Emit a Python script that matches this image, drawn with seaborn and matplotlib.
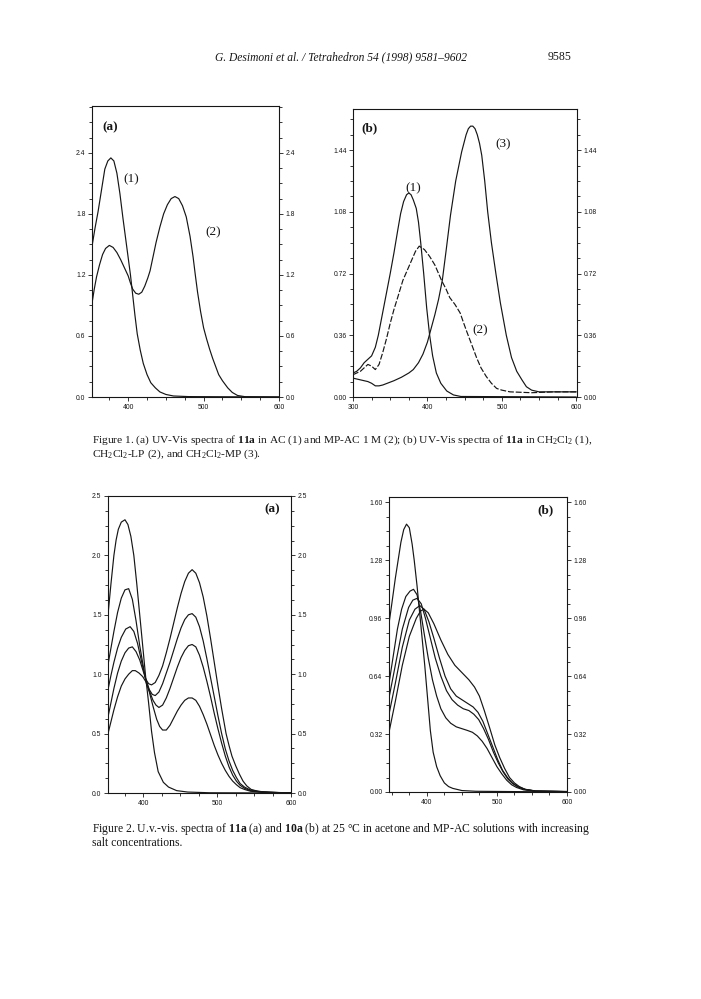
import numpy as np
import pandas as pd
import matplotlib
matplotlib.use("Agg")
import matplotlib.pyplot as plt
from matplotlib.ticker import MultipleLocator, FormatStrFormatter
import seaborn as sns

# ---------------- data (read from the scanned page) ----------------
# Figure 1 (a)
wl_1a_c1 = [352, 356, 360, 363, 366, 369, 373, 377, 381, 385, 389, 393, 398, 403, 406, 409, 412, 416, 420, 425, 430, 436, 442, 450, 460, 480, 600]
ab_1a_c1 = [1.48, 1.66, 1.82, 1.96, 2.1, 2.24, 2.32, 2.35, 2.32, 2.2, 2.0, 1.76, 1.48, 1.2, 1.0, 0.8, 0.62, 0.46, 0.33, 0.22, 0.14, 0.09, 0.05, 0.025, 0.01, 0.004, 0.0]
wl_1a_c2 = [352, 355, 358, 362, 366, 370, 375, 380, 385, 390, 395, 400, 403, 406, 410, 414, 418, 422, 426, 429, 433, 437, 442, 447, 452, 457, 462, 467, 472, 477, 482, 486, 489, 492, 496, 500, 504, 508, 512, 516, 520, 525, 532, 538, 545, 555, 600]
ab_1a_c2 = [0.92, 1.06, 1.18, 1.3, 1.4, 1.46, 1.49, 1.47, 1.42, 1.35, 1.27, 1.19, 1.12, 1.06, 1.02, 1.01, 1.03, 1.09, 1.17, 1.24, 1.38, 1.52, 1.67, 1.8, 1.89, 1.95, 1.97, 1.95, 1.88, 1.77, 1.58, 1.38, 1.2, 1.03, 0.84, 0.68, 0.57, 0.47, 0.38, 0.3, 0.22, 0.16, 0.09, 0.045, 0.015, 0.003, 0.0]

# Figure 1 (b)
wl_1b_c1 = [300, 305, 310, 315, 320, 325, 330, 334, 338, 342, 346, 350, 355, 360, 364, 368, 372, 375, 378, 381, 385, 388, 391, 395, 399, 403, 407, 412, 418, 426, 435, 445, 600]
ab_1b_c1 = [0.14, 0.15, 0.17, 0.2, 0.22, 0.24, 0.29, 0.36, 0.45, 0.54, 0.63, 0.72, 0.84, 0.97, 1.07, 1.14, 1.18, 1.19, 1.18, 1.15, 1.1, 1.02, 0.9, 0.72, 0.52, 0.36, 0.24, 0.14, 0.08, 0.035, 0.012, 0.003, 0.0]
wl_1b_c2 = [300, 305, 310, 315, 320, 325, 330, 335, 340, 345, 350, 355, 360, 367, 373, 379, 384, 389, 396, 403, 410, 413, 419, 425, 430, 437, 444, 448, 453, 460, 466, 472, 479, 486, 493, 500, 511, 540, 570, 600]
ab_1b_c2 = [0.13, 0.14, 0.15, 0.17, 0.19, 0.18, 0.16, 0.19, 0.26, 0.34, 0.43, 0.51, 0.58, 0.68, 0.74, 0.8, 0.85, 0.88, 0.86, 0.82, 0.77, 0.74, 0.68, 0.63, 0.58, 0.54, 0.49, 0.44, 0.38, 0.3, 0.23, 0.17, 0.12, 0.08, 0.05, 0.04, 0.03, 0.025, 0.03, 0.03]
wl_1b_c3 = [300, 305, 310, 315, 320, 325, 330, 335, 340, 346, 355, 365, 375, 381, 388, 394, 400, 405, 410, 415, 420, 425, 431, 438, 446, 452, 455, 458, 461, 464, 467, 470, 473, 477, 481, 486, 492, 498, 506, 513, 520, 527, 533, 540, 550, 600]
ab_1b_c3 = [0.11, 0.105, 0.1, 0.095, 0.09, 0.08, 0.065, 0.065, 0.07, 0.08, 0.095, 0.115, 0.14, 0.16, 0.2, 0.25, 0.32, 0.4, 0.48, 0.57, 0.68, 0.85, 1.06, 1.26, 1.43, 1.53, 1.565, 1.58, 1.58, 1.565, 1.53, 1.48, 1.41, 1.26, 1.08, 0.9, 0.72, 0.55, 0.36, 0.23, 0.15, 0.1, 0.06, 0.04, 0.03, 0.03]

# Figure 2 (a)
wl_2a_a = [352, 356, 360, 363, 366, 370, 375, 379, 383, 387, 391, 395, 399, 403, 407, 411, 415, 420, 427, 434, 445, 460, 490, 600]
ab_2a_a = [1.5, 1.76, 2.0, 2.13, 2.22, 2.28, 2.3, 2.26, 2.16, 2.0, 1.76, 1.5, 1.24, 0.98, 0.76, 0.52, 0.34, 0.18, 0.09, 0.05, 0.02, 0.008, 0.002, 0.0]
wl_2a_b = [352, 356, 360, 365, 370, 375, 380, 385, 390, 395, 400, 403, 407, 411, 416, 421, 426, 431, 436, 441, 446, 451, 456, 461, 466, 471, 476, 481, 486, 491, 496, 501, 506, 512, 516, 520, 525, 530, 535, 540, 546, 555, 570, 600]
ab_2a_b = [1.08, 1.22, 1.36, 1.52, 1.64, 1.71, 1.72, 1.63, 1.45, 1.24, 1.06, 0.96, 0.92, 0.91, 0.93, 0.99, 1.07, 1.18, 1.3, 1.43, 1.56, 1.68, 1.78, 1.85, 1.88, 1.85, 1.77, 1.65, 1.49, 1.3, 1.1, 0.9, 0.71, 0.5, 0.4, 0.31, 0.23, 0.16, 0.1, 0.06, 0.03, 0.015, 0.006, 0.0]
wl_2a_c = [352, 356, 360, 365, 370, 376, 382, 387, 392, 397, 403, 408, 412, 416, 421, 426, 431, 436, 441, 446, 451, 456, 461, 466, 471, 476, 481, 486, 491, 496, 501, 506, 511, 516, 521, 526, 531, 537, 545, 560, 600]
ab_2a_c = [0.87, 0.99, 1.1, 1.22, 1.31, 1.38, 1.4, 1.36, 1.26, 1.12, 0.96, 0.87, 0.83, 0.82, 0.85, 0.92, 1.01, 1.1, 1.2, 1.3, 1.39, 1.46, 1.5, 1.51, 1.48, 1.4, 1.28, 1.13, 0.97, 0.81, 0.65, 0.5, 0.37, 0.27, 0.19, 0.13, 0.08, 0.05, 0.025, 0.01, 0.0]
wl_2a_d = [352, 356, 360, 365, 370, 375, 380, 385, 390, 395, 400, 403, 408, 413, 417, 421, 426, 431, 436, 441, 446, 451, 456, 461, 466, 471, 476, 481, 486, 491, 496, 501, 506, 511, 516, 521, 526, 531, 537, 545, 560, 600]
ab_2a_d = [0.64, 0.76, 0.88, 1.01, 1.11, 1.18, 1.22, 1.23, 1.19, 1.12, 1.02, 0.96, 0.86, 0.78, 0.74, 0.72, 0.74, 0.8, 0.88, 0.97, 1.06, 1.14, 1.2, 1.24, 1.25, 1.23, 1.16, 1.06, 0.94, 0.81, 0.67, 0.54, 0.42, 0.31, 0.22, 0.15, 0.1, 0.065, 0.04, 0.02, 0.008, 0.0]
wl_2a_e = [352, 356, 360, 365, 370, 375, 380, 385, 389, 394, 399, 403, 408, 413, 418, 422, 426, 431, 436, 441, 446, 451, 456, 461, 466, 471, 476, 481, 486, 491, 496, 501, 506, 511, 516, 521, 526, 531, 537, 545, 560, 600]
ab_2a_e = [0.5, 0.6, 0.7, 0.81, 0.9, 0.96, 1.0, 1.03, 1.03, 1.01, 0.98, 0.94, 0.85, 0.73, 0.62, 0.56, 0.53, 0.53, 0.57, 0.63, 0.69, 0.74, 0.78, 0.8, 0.8, 0.78, 0.73, 0.66, 0.58, 0.49, 0.4, 0.32, 0.25, 0.19, 0.14, 0.1, 0.07, 0.045, 0.03, 0.015, 0.006, 0.0]

# Figure 2 (b)
wl_2b_a = [346, 350, 355, 359, 363, 367, 371, 375, 379, 382, 386, 390, 394, 397, 401, 405, 409, 414, 419, 425, 431, 437, 450, 470, 600]
ab_2b_a = [0.93, 1.04, 1.18, 1.28, 1.38, 1.45, 1.48, 1.46, 1.37, 1.28, 1.14, 0.98, 0.82, 0.7, 0.52, 0.34, 0.22, 0.14, 0.09, 0.05, 0.03, 0.02, 0.008, 0.004, 0.0]
wl_2b_b = [346, 352, 358, 364, 370, 376, 381, 386, 391, 396, 402, 408, 414, 420, 427, 434, 442, 450, 458, 465, 472, 479, 486, 493, 500, 507, 514, 521, 528, 538, 555, 600]
ab_2b_b = [0.6, 0.75, 0.9, 1.01, 1.08, 1.11, 1.12, 1.09, 1.0, 0.88, 0.74, 0.62, 0.53, 0.46, 0.41, 0.38, 0.36, 0.35, 0.34, 0.33, 0.31, 0.28, 0.24, 0.19, 0.14, 0.1, 0.065, 0.04, 0.025, 0.012, 0.004, 0.002]
wl_2b_c = [346, 355, 365, 374, 380, 386, 392, 398, 405, 412, 420, 428, 436, 444, 452, 460, 467, 474, 481, 488, 495, 502, 509, 516, 523, 530, 540, 555, 600]
ab_2b_c = [0.52, 0.7, 0.9, 1.02, 1.06, 1.07, 1.04, 0.96, 0.85, 0.74, 0.64, 0.56, 0.51, 0.48, 0.46, 0.45, 0.43, 0.4, 0.35, 0.29, 0.22, 0.16, 0.11, 0.07, 0.045, 0.028, 0.014, 0.005, 0.002]
wl_2b_d = [346, 355, 365, 375, 383, 390, 396, 403, 410, 418, 426, 434, 442, 450, 458, 466, 473, 480, 487, 494, 501, 508, 515, 522, 530, 540, 555, 600]
ab_2b_d = [0.43, 0.6, 0.8, 0.95, 1.01, 1.03, 1.01, 0.94, 0.85, 0.74, 0.64, 0.57, 0.53, 0.51, 0.49, 0.47, 0.44, 0.39, 0.32, 0.25, 0.18, 0.12, 0.08, 0.05, 0.03, 0.015, 0.005, 0.002]
wl_2b_e = [346, 355, 365, 375, 385, 391, 396, 402, 410, 420, 430, 440, 450, 460, 468, 475, 482, 490, 497, 504, 511, 518, 525, 532, 540, 555, 600]
ab_2b_e = [0.33, 0.5, 0.7, 0.86, 0.96, 1.0, 1.01, 0.99, 0.93, 0.84, 0.76, 0.7, 0.66, 0.62, 0.58, 0.53, 0.45, 0.35, 0.26, 0.19, 0.13, 0.08, 0.05, 0.03, 0.015, 0.006, 0.003]

# ---------------- style ----------------
sns.set_theme(style="white")
plt.rcParams["font.family"] = ["Liberation Serif", "DejaVu Serif"]
plt.rcParams["mathtext.fontset"] = "custom"
plt.rcParams["mathtext.rm"] = "Liberation Serif"
plt.rcParams["mathtext.it"] = "Liberation Serif:italic"
plt.rcParams["mathtext.bf"] = "Liberation Serif:bold"

INK = "#161616"
W, H = 701, 999

fig = plt.figure(figsize=(W / 100, H / 100), dpi=100)
fig.patch.set_facecolor("white")


def box(left, top, right, bottom):
    return [left / W, 1 - bottom / H, (right - left) / W, (bottom - top) / H]


def ftext(x, y, s, **kw):
    fig.text(x / W, 1 - y / H, s, **kw)


def style_axes(ax, xlim, ylim, ymaj, ymin, yfmt):
    ax.set_xlim(*xlim)
    ax.set_ylim(*ylim)
    ax.set_facecolor("white")
    for sp in ax.spines.values():
        sp.set_visible(True)
        sp.set_color(INK)
        sp.set_linewidth(0.8)
    ax.xaxis.set_major_locator(MultipleLocator(100))
    ax.xaxis.set_minor_locator(MultipleLocator(25))
    ax.yaxis.set_major_locator(MultipleLocator(ymaj))
    ax.yaxis.set_minor_locator(MultipleLocator(ymin))
    ax.xaxis.set_major_formatter(FormatStrFormatter("%d"))
    ax.yaxis.set_major_formatter(FormatStrFormatter(yfmt))
    ax.tick_params(axis="both", which="both", direction="out", color=INK,
                   width=0.6, top=False, bottom=True, left=True, right=True,
                   labelleft=True, labelright=True, labelbottom=True)
    ax.tick_params(which="major", length=3.2, pad=1.5)
    ax.tick_params(which="minor", length=2.2)
    for lab in ax.get_xticklabels() + ax.get_yticklabels():
        lab.set_fontfamily(["Liberation Sans", "DejaVu Sans"])
        lab.set_fontsize(4.9)
        lab.set_color(INK)
    ax.set_xlabel("")
    ax.set_ylabel("")
    ax.grid(False)


def curve(ax, wl, ab, dashed=False):
    df = pd.DataFrame({"wl": wl, "A": ab})
    sns.lineplot(data=df, x="wl", y="A", ax=ax, color=INK, lw=0.85,
                 estimator=None, sort=False, legend=False)
    if dashed:
        ax.lines[-1].set_dashes([5, 1.6])


# ---------------- Figure 1 (a) ----------------
ax1a = fig.add_axes(box(92, 106, 279, 397))
curve(ax1a, wl_1a_c1, ab_1a_c1)
curve(ax1a, wl_1a_c2, ab_1a_c2)
style_axes(ax1a, (352, 600), (0, 2.86), 0.6, 0.15, "%.1f")

# ---------------- Figure 1 (b) ----------------
ax1b = fig.add_axes(box(353, 109, 577, 397))
curve(ax1b, wl_1b_c1, ab_1b_c1)
curve(ax1b, wl_1b_c2, ab_1b_c2, dashed=True)
curve(ax1b, wl_1b_c3, ab_1b_c3)
style_axes(ax1b, (300, 601), (0, 1.68), 0.36, 0.09, "%.2f")

# ---------------- Figure 2 (a) ----------------
ax2a = fig.add_axes(box(108, 496, 291, 793))
for wl, ab in [(wl_2a_a, ab_2a_a), (wl_2a_b, ab_2a_b), (wl_2a_c, ab_2a_c),
               (wl_2a_d, ab_2a_d), (wl_2a_e, ab_2a_e)]:
    curve(ax2a, wl, ab)
style_axes(ax2a, (352, 600), (0, 2.5), 0.5, 0.125, "%.1f")

# ---------------- Figure 2 (b) ----------------
ax2b = fig.add_axes(box(389, 497, 567, 792))
for wl, ab in [(wl_2b_a, ab_2b_a), (wl_2b_b, ab_2b_b), (wl_2b_c, ab_2b_c),
               (wl_2b_d, ab_2b_d), (wl_2b_e, ab_2b_e)]:
    curve(ax2b, wl, ab)
style_axes(ax2b, (346, 600), (0, 1.63), 0.32, 0.08, "%.2f")

# ---------------- panel / curve labels ----------------
lab_kw = dict(fontsize=9.5, color=INK, ha="center", va="center")
ftext(110, 127, "(a)", fontweight="bold", **lab_kw)
ftext(131, 179, "(1)", **lab_kw)
ftext(213, 232, "(2)", **lab_kw)
ftext(369, 128, "(b)", fontweight="bold", **lab_kw)
ftext(413, 188, "(1)", **lab_kw)
ftext(503, 144, "(3)", **lab_kw)
ftext(480, 330, "(2)", **lab_kw)
ftext(272, 509, "(a)", fontweight="bold", **lab_kw)
ftext(546, 510, "(b)", fontweight="bold", **lab_kw)

# ---------------- page header ----------------
ftext(341, 57, "G. Desimoni et al. / Tetrahedron 54 (1998) 9581\u20139602",
      fontsize=8.3, style="italic", ha="center", va="center", color=INK)
ftext(560, 57, "9585", fontsize=8.5, ha="center", va="center", color=INK)

# ---------------- captions ----------------
cap_kw = dict(fontsize=8.2, ha="left", va="center", color=INK)
ftext(92, 440, r"Figure 1. (a) UV-Vis spectra of $\mathbf{11a}$ in AC (1) and MP-AC 1 M (2); "
               r"(b) UV-Vis spectra of $\mathbf{11a}$ in CH$_2$Cl$_2$ (1),", **cap_kw)
ftext(92, 454, r"CH$_2$Cl$_2$-LP (2), and CH$_2$Cl$_2$-MP (3).", **cap_kw)
cap2_kw = dict(cap_kw, fontsize=8.4)
ftext(92, 829, r"Figure 2. U.v.-vis. spectra of $\mathbf{11a}$ (a) and $\mathbf{10a}$ (b) at 25 "
               + "\u00b0C in acetone and MP-AC solutions with increasing", **cap2_kw)
ftext(92, 843, "salt concentrations.", **cap2_kw)

fig.savefig("out.png", dpi=100, facecolor="white")
